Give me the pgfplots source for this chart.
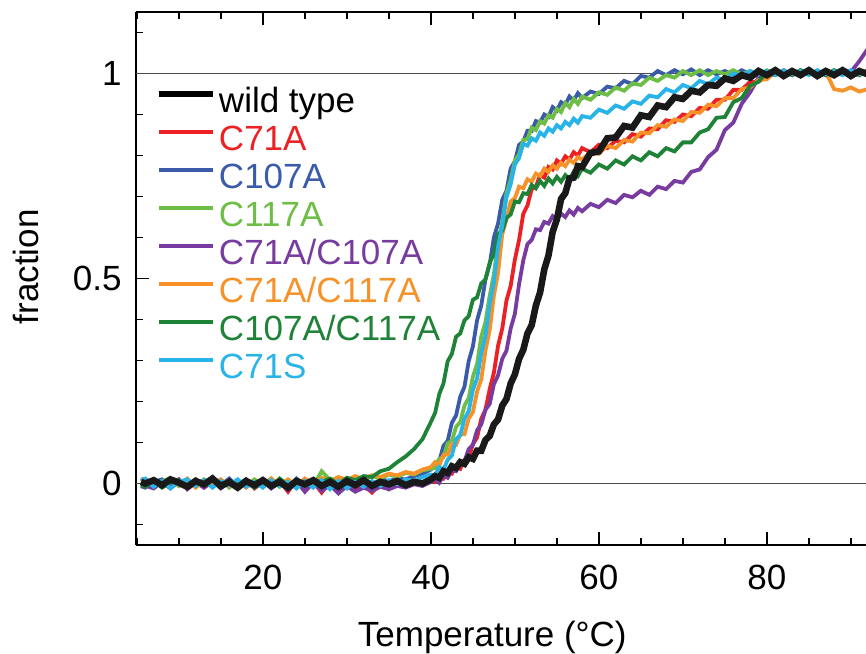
\documentclass[border=0pt]{standalone}
\usepackage{pgfplots}
\usepackage{pgfplotstable}
\pgfplotsset{compat=1.18}
\usepackage{fontspec}
\setmainfont{Liberation Sans}
\newcommand\fs{\fontsize{17.5}{21}\selectfont}
\definecolor{cred}{RGB}{237,32,36}
\definecolor{cblue}{RGB}{58,90,170}
\definecolor{cgreen}{RGB}{110,190,70}
\definecolor{cpurple}{RGB}{120,60,160}
\definecolor{corange}{RGB}{247,146,40}
\definecolor{cdkgreen}{RGB}{30,130,55}
\definecolor{ccyan}{RGB}{40,180,232}
\pgfplotstableread{
T    wt     r      b      g      p      o      dg     c
5.5  0.004 0.006 -0.006 0.010 -0.008 0.012 -0.004 0.008
6    0.000 0.010 -0.010 0.005 -0.005 0.008 -0.008 0.012
7    0.008 -0.006 0.004 -0.010 -0.012 0.004 0.006 -0.008
8    -0.004 0.003 0.010 0.006 0.004 -0.006 -0.010 0.006
9    0.010 -0.012 -0.004 0.012 -0.008 0.010 0.002 -0.012
10   0.002 0.006 0.008 -0.006 0.010 -0.004 0.008 0.004
11   -0.008 -0.004 -0.012 0.004 -0.014 0.012 -0.006 0.010
12   0.006 0.010 0.006 -0.008 0.002 -0.010 0.010 -0.006
13   -0.002 -0.010 -0.006 0.010 -0.010 0.006 -0.004 0.008
14   0.012 0.004 0.010 -0.004 0.006 -0.002 0.012 -0.010
15   -0.006 -0.008 -0.004 0.008 -0.012 0.010 -0.008 0.006
16   0.004 0.008 0.012 -0.010 0.004 -0.006 0.006 -0.004
17   -0.010 -0.006 -0.008 0.006 -0.008 0.008 -0.002 0.010
18   0.006 0.010 0.004 -0.006 0.010 -0.010 0.010 -0.008
19   -0.004 -0.012 -0.010 0.010 -0.006 0.004 -0.010 0.004
20   0.008 0.004 0.006 -0.002 0.008 -0.008 0.004 -0.010
21   -0.006 -0.010 -0.004 0.012 -0.012 0.012 -0.006 0.008
22   0.004 0.006 0.010 -0.008 0.004 -0.004 0.012 -0.006
23   -0.010 -0.020 -0.008 0.006 -0.016 0.010 -0.004 0.004
24   0.006 0.008 0.012 -0.004 0.006 -0.006 0.008 -0.012
25   -0.002 -0.018 -0.006 0.010 -0.020 0.012 -0.006 0.006
26   0.008 0.004 0.008 -0.006 0.002 -0.002 0.010 -0.010
27   -0.006 -0.022 -0.010 0.030 -0.018 0.014 0.004 0.008
28   0.004 0.006 0.006 0.008 -0.004 0.004 0.012 -0.014
29   -0.008 -0.020 -0.004 0.014 -0.024 0.016 -0.002 0.006
30   0.006 0.002 0.010 -0.002 -0.006 0.008 0.014 -0.012
31   -0.004 -0.016 -0.006 0.016 -0.020 0.018 0.008 0.004
32   0.008 -0.004 0.008 0.008 -0.010 0.010 0.018 -0.008
33   -0.006 -0.022 -0.004 0.018 -0.018 0.020 0.016 0.006
34   0.004 0.000 0.010 0.012 -0.008 0.016 0.030 -0.006
35   -0.002 -0.014 0.006 0.022 -0.014 0.024 0.036 0.008
36   0.006 0.004 0.012 0.016 -0.006 0.020 0.052 -0.002
37   -0.004 -0.008 0.010 0.026 -0.010 0.028 0.066 0.010
38   0.004 0.006 0.018 0.022 -0.002 0.024 0.084 0.006
39   0.000 -0.004 0.024 0.032 -0.006 0.034 0.108 0.016
40   0.010 0.008 0.034 0.036 0.004 0.040 0.150 0.022
40.5 0.018 0.004 0.050 0.038 0.012 0.052 0.172 0.020
41   0.014 0.018 0.054 0.060 0.002 0.044 0.218 0.040
41.5 0.030 0.012 0.092 0.064 0.020 0.070 0.244 0.034
42   0.026 0.026 0.104 0.098 0.014 0.070 0.298 0.058
42.5 0.042 0.024 0.148 0.104 0.032 0.096 0.316 0.068
43   0.038 0.042 0.166 0.138 0.030 0.094 0.358 0.108
43.5 0.052 0.036 0.212 0.150 0.052 0.120 0.366 0.118
44   0.048 0.058 0.236 0.190 0.054 0.120 0.398 0.158
44.5 0.064 0.062 0.298 0.208 0.084 0.158 0.408 0.176
45   0.060 0.096 0.334 0.260 0.094 0.174 0.448 0.228
45.5 0.080 0.112 0.398 0.292 0.130 0.224 0.454 0.256
46   0.080 0.158 0.434 0.358 0.144 0.254 0.488 0.318
46.5 0.106 0.180 0.498 0.394 0.180 0.324 0.498 0.360
47   0.116 0.230 0.534 0.458 0.194 0.374 0.538 0.438
47.5 0.144 0.270 0.600 0.510 0.242 0.458 0.560 0.490
48   0.156 0.336 0.634 0.588 0.264 0.514 0.608 0.578
48.5 0.190 0.378 0.692 0.638 0.304 0.608 0.616 0.628
49   0.206 0.446 0.714 0.708 0.324 0.644 0.648 0.698
49.5 0.244 0.482 0.768 0.740 0.378 0.688 0.656 0.730
50   0.266 0.546 0.786 0.788 0.414 0.696 0.688 0.778
50.5 0.304 0.594 0.826 0.802 0.486 0.724 0.686 0.794
51   0.326 0.658 0.834 0.838 0.544 0.720 0.708 0.828
51.5 0.366 0.678 0.860 0.840 0.584 0.742 0.706 0.824
52   0.386 0.718 0.860 0.868 0.594 0.736 0.728 0.842
52.5 0.434 0.724 0.884 0.862 0.620 0.756 0.720 0.836
53   0.466 0.752 0.880 0.884 0.618 0.750 0.738 0.856
53.5 0.522 0.746 0.900 0.878 0.638 0.768 0.726 0.848
54   0.556 0.772 0.894 0.898 0.634 0.760 0.744 0.866
54.5 0.614 0.766 0.918 0.892 0.652 0.776 0.732 0.858
55   0.644 0.788 0.910 0.914 0.644 0.768 0.748 0.874
55.5 0.694 0.780 0.930 0.906 0.658 0.782 0.736 0.866
56   0.708 0.798 0.924 0.928 0.650 0.774 0.752 0.882
56.5 0.744 0.790 0.944 0.918 0.666 0.790 0.742 0.874
57   0.746 0.808 0.934 0.938 0.656 0.782 0.760 0.890
57.5 0.774 0.800 0.952 0.926 0.672 0.796 0.750 0.880
58   0.772 0.818 0.940 0.944 0.664 0.790 0.768 0.896
59   0.806 0.808 0.956 0.936 0.682 0.808 0.758 0.892
60   0.810 0.826 0.950 0.954 0.674 0.804 0.778 0.912
61   0.842 0.818 0.968 0.948 0.692 0.824 0.768 0.904
62   0.844 0.836 0.964 0.966 0.684 0.818 0.788 0.922
63   0.872 0.832 0.982 0.958 0.704 0.838 0.778 0.914
64   0.868 0.852 0.974 0.976 0.698 0.834 0.798 0.932
65   0.898 0.846 0.994 0.972 0.714 0.856 0.788 0.926
66   0.894 0.866 0.990 0.990 0.704 0.854 0.808 0.946
67   0.922 0.864 1.006 0.982 0.724 0.874 0.798 0.942
68   0.918 0.886 0.996 0.996 0.718 0.870 0.818 0.962
69   0.942 0.882 1.008 0.990 0.738 0.888 0.810 0.954
70   0.938 0.900 0.998 1.006 0.734 0.884 0.832 0.972
71   0.958 0.896 1.010 0.996 0.760 0.906 0.832 0.964
72   0.954 0.916 0.996 1.008 0.766 0.904 0.856 0.982
73   0.972 0.914 1.008 0.996 0.796 0.924 0.864 0.974
74   0.970 0.936 0.998 1.006 0.814 0.920 0.892 0.990
75   0.988 0.936 1.006 0.998 0.862 0.940 0.894 0.984
76   0.982 0.960 0.996 1.008 0.880 0.940 0.930 1.000
77   0.996 0.960 1.008 0.998 0.926 0.962 0.940 0.994
78   0.990 0.980 0.998 1.006 0.954 0.966 0.970 1.006
79   1.006 0.980 1.006 0.996 0.990 0.984 0.980 0.998
80   0.996 0.994 0.996 1.008 0.996 0.986 1.004 1.006
81   1.008 0.998 1.008 0.998 1.008 1.004 0.996 0.996
82   0.994 1.008 0.998 1.006 0.998 0.996 1.006 1.008
83   1.006 0.996 1.006 0.996 1.006 1.006 0.996 0.998
84   0.996 1.006 0.996 1.008 0.996 0.998 1.008 1.006
85   1.008 0.998 1.008 0.998 1.008 1.008 0.998 0.996
86   0.994 1.006 0.998 1.006 0.998 0.996 1.006 1.008
87   1.006 0.996 1.006 0.996 1.008 1.004 0.996 0.998
88   0.996 1.006 0.996 1.008 0.998 0.962 1.008 1.006
89   1.008 0.998 1.008 0.998 1.010 0.958 0.998 0.996
90   0.994 1.006 0.998 1.006 1.004 0.966 1.006 1.008
91   1.006 0.996 1.006 0.996 1.030 0.956 0.996 0.998
92   0.998 1.006 0.996 1.008 1.060 0.962 1.008 1.004
}\data
\begin{document}
\begin{tikzpicture}
\useasboundingbox (-68pt,-54pt) rectangle (365pt,272.5pt);
\begin{axis}[
  scale only axis, width=365pt, height=266.5pt,
  at={(0,0)}, anchor=south west,
  xmin=4.9, xmax=91.8, ymin=-0.15, ymax=1.15,
  axis x line*=box, axis y line*=left,
  axis line style={line width=0.9pt},
  every tick/.style={line width=0.9pt, black},
  tick align=inside,
  major tick length=6.3pt, minor tick length=3.5pt,
  xtick={20,40,60,80}, minor xtick={5,10,...,90},
  ytick={0,0.5,1}, yticklabels={0,0.5,1}, minor ytick={-0.1,0.1,0.2,0.3,0.4,0.6,0.7,0.8,0.9,1.1},
  xtick pos=both, ytick pos=left,
  /pgf/number format/assume math mode=true,
  ticklabel style={font=\fs},
  xticklabel style={inner sep=0pt, anchor=north, yshift=-10pt},
  yticklabel style={inner sep=0pt, anchor=east, xshift=-7pt},
  xlabel={Temperature (°C)}, ylabel={fraction},
  label style={font=\fs},
  x label style={at={(axis description cs:0.488,0)}, anchor=base, yshift=-50.8pt},
  y label style={at={(axis description cs:-0.134,0.522)}, anchor=base, rotate=0},
  clip=true,
  legend cell align=left,
  legend image code/.code={\draw[#1] (0pt,4.5pt) -- (27pt,4.5pt);},
  legend style={draw=none, fill=none, at={(axis description cs:0,1)}, anchor=north west,
    xshift=10pt, yshift=-37pt, inner sep=0pt, outer sep=0pt, row sep=2pt, column sep=1.5pt,
    font=\fs, nodes={inner sep=0pt, text height=13pt, text depth=4pt}},
]
\addlegendimage{black, line width=3pt}\addlegendentry[text=black]{wild type}
\addlegendimage{cred, line width=1.6pt}\addlegendentry[text=cred]{C71A}
\addlegendimage{cblue, line width=1.6pt}\addlegendentry[text=cblue]{C107A}
\addlegendimage{cgreen, line width=1.6pt}\addlegendentry[text=cgreen]{C117A}
\addlegendimage{cpurple, line width=1.6pt}\addlegendentry[text=cpurple]{C71A/C107A}
\addlegendimage{corange, line width=1.6pt}\addlegendentry[text=corange]{C71A/C117A}
\addlegendimage{cdkgreen, line width=1.6pt}\addlegendentry[text=cdkgreen]{C107A/C117A}
\addlegendimage{ccyan, line width=1.6pt}\addlegendentry[text=ccyan]{C71S}
\addplot[black!70, line width=0.5pt, forget plot] coordinates {(4.9,0) (91.8,0)};
\addplot[black!70, line width=0.5pt, forget plot] coordinates {(4.9,1) (91.8,1)};
\addplot[cred, line width=1.9pt, forget plot] table[x=T, y=r] {\data};
\addplot[cblue, line width=1.9pt, forget plot] table[x=T, y=b] {\data};
\addplot[cgreen, line width=1.9pt, forget plot] table[x=T, y=g] {\data};
\addplot[cpurple, line width=1.9pt, forget plot] table[x=T, y=p] {\data};
\addplot[corange, line width=1.9pt, forget plot] table[x=T, y=o] {\data};
\addplot[cdkgreen, line width=1.9pt, forget plot] table[x=T, y=dg] {\data};
\addplot[ccyan, line width=1.9pt, forget plot] table[x=T, y=c] {\data};
\addplot[black!90, line width=3.3pt, forget plot] table[x=T, y=wt] {\data};
\end{axis}
\end{tikzpicture}
\end{document}
